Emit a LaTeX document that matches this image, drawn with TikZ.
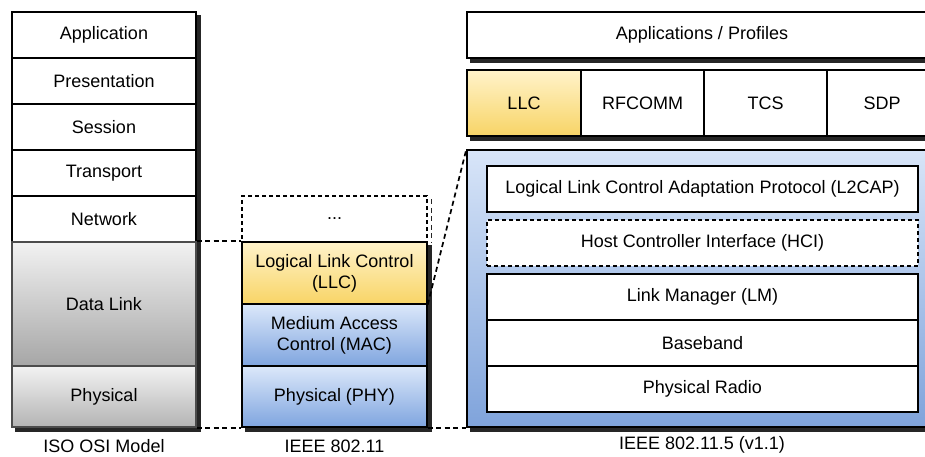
\documentclass[tikz,border=0pt]{standalone}
\usepackage{fontspec}
\setmainfont{Liberation Sans}
\pgfdeclarelayer{background}
\pgfsetlayers{background,main}
\definecolor{grayT}{HTML}{F2F2F2}
\definecolor{grayB}{HTML}{A6A6A6}
\definecolor{grayB2}{HTML}{B4B4B4}
\definecolor{yelT}{HTML}{FFF3CA}
\definecolor{yelB}{HTML}{F8D466}
\definecolor{bluT}{HTML}{DCE8FA}
\definecolor{bluB}{HTML}{7FA5DF}
\definecolor{bigT}{HTML}{D8E5F8}
\definecolor{bigB}{HTML}{7FA3DB}
\begin{document}
\begin{tikzpicture}[x=1pt,y=-1pt,
  cell/.style={draw=black, line width=1.4pt, rectangle, inner sep=0pt, align=center,
    font=\fontsize{18}{21}\selectfont, fill=white},
  graycell/.style={cell, draw=black!70, top color=grayT, bottom color=grayB},
  yelcell/.style={cell, top color=yelT, bottom color=yelB},
  blucell/.style={cell, top color=bluT, bottom color=bluB},
  dashcell/.style={cell, dash pattern=on 4pt off 3pt},
  conn/.style={line width=1.7pt, dash pattern=on 5pt off 3.5pt},
  shade/.style={fill=black!85},
  lbl/.style={font=\fontsize{18}{21}\selectfont, inner sep=0pt}]
\clip (0,0) rectangle (925,457);

% ISO OSI column
\node[cell, minimum width=184pt, minimum height=46pt] (app) at (104,35) {Application};
\node[cell, minimum width=184pt, minimum height=46pt] (pres) at (104,81) {Presentation};
\node[cell, minimum width=184pt, minimum height=46pt] (sess) at (104,127) {Session};
\node[cell, minimum width=184pt, minimum height=46pt] (trans) at (104,173) {Transport};
\node[cell, minimum width=184pt, minimum height=46pt] (net) at (104,219) {Network};
\node[graycell, minimum width=184pt, minimum height=124pt] (dl) at (104,304) {Data Link};
\node[graycell, bottom color=grayB2, minimum width=184pt, minimum height=61pt] (phys) at (104,396.5) {Physical};
\node[lbl] (osilbl) at (104,446) {ISO OSI Model};

% IEEE 802.11 column
\node[dashcell, minimum width=185pt, minimum height=46pt] (dots) at (334.5,219) {...};
\node[yelcell, minimum width=185pt, minimum height=62pt] (llc) at (334.5,273) {Logical Link Control\\(LLC)};
\node[blucell, minimum width=185pt, minimum height=62pt] (mac) at (334.5,335) {Medium Access\\Control (MAC)};
\node[blucell, minimum width=185pt, minimum height=61pt] (phy) at (334.5,396.5) {Physical (PHY)};
\node[lbl] (ieeelbl) at (334.5,446) {IEEE 802.11};

% Bluetooth column
\node[cell, minimum width=470pt, minimum height=46pt] (apps) at (702,35) {Applications / Profiles};
\node[yelcell, minimum width=114pt, minimum height=66pt] (llc2) at (524,103) {LLC};
\node[cell, minimum width=123pt, minimum height=66pt] (rfcomm) at (642.5,103) {RFCOMM};
\node[cell, minimum width=123pt, minimum height=66pt] (tcs) at (765.5,103) {TCS};
\node[cell, minimum width=110pt, minimum height=66pt] (sdp) at (882,103) {SDP};
\node[cell, top color=bigT, bottom color=bigB, minimum width=470pt, minimum height=277pt] (blue) at (702,288.5) {};
\node[cell, minimum width=431pt, minimum height=46pt] (l2cap) at (702.5,189) {Logical Link Control Adaptation Protocol (L2CAP)};
\node[dashcell, minimum width=431pt, minimum height=46pt] (hci) at (702.5,243) {Host Controller Interface (HCI)};
\node[cell, minimum width=431pt, minimum height=46pt] (lm) at (702.5,297) {Link Manager (LM)};
\node[cell, minimum width=431pt, minimum height=46pt] (bb) at (702.5,343) {Baseband};
\node[cell, minimum width=431pt, minimum height=46pt] (radio) at (702.5,389) {Physical Radio};
\node[lbl] (btlbl) at (702,445) {IEEE 802.11.5 (v1.1)};

\begin{pgfonlayer}{background}
  \fill[white] (0,0) rectangle (925,457);
  % shadows
  \fill[shade] ([xshift=4pt,yshift=-4pt]app.north west) rectangle ([xshift=4pt,yshift=-4pt]phys.south east);
  \fill[shade] ([xshift=4pt,yshift=-4pt]llc.north west) rectangle ([xshift=4pt,yshift=-4pt]phy.south east);
  \draw[conn, line width=1.4pt, black!85] ([xshift=4pt,yshift=-4pt]dots.north east) -- ([xshift=4pt]dots.south east);
  \fill[shade] ([xshift=4pt,yshift=-4pt]apps.north west) rectangle ([xshift=4pt,yshift=-4pt]apps.south east);
  \fill[shade] ([xshift=4pt,yshift=-4pt]llc2.north west) rectangle ([xshift=4pt,yshift=-4pt]sdp.south east);
  \fill[shade] ([xshift=4pt,yshift=-4pt]blue.north west) rectangle ([xshift=4pt,yshift=-4pt]blue.south east);
  % connectors
  \draw[conn] (dl.north east) -- (llc.north west);
  \draw[conn] (phys.south east) -- (phy.south west);
  \draw[conn] (llc.south east) -- (blue.north west);
  \draw[conn] (phy.south east) -- (blue.south west);
\end{pgfonlayer}
\end{tikzpicture}
\end{document}
